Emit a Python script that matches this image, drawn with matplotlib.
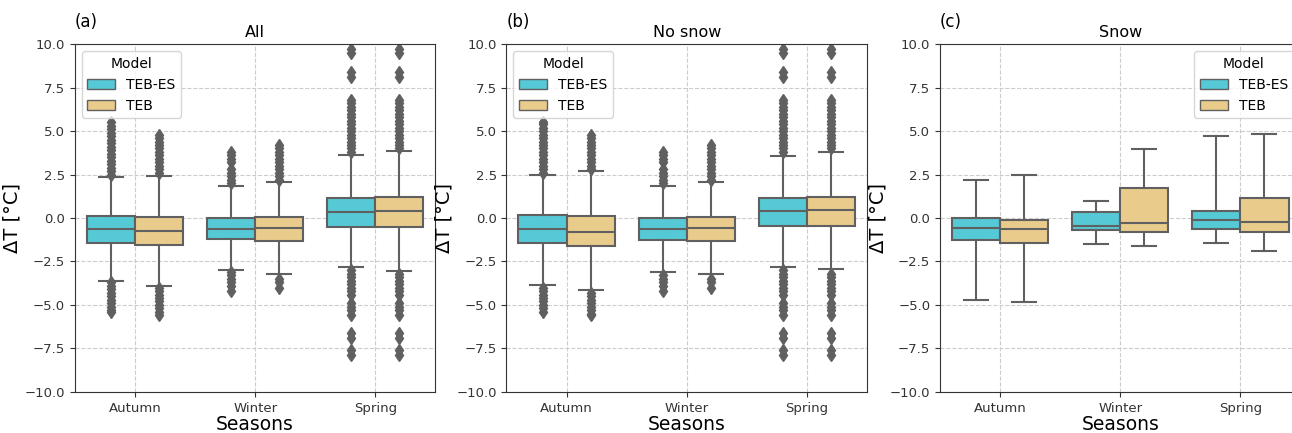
import matplotlib.pyplot as plt
from matplotlib.patches import Patch

# Data: temperature differences (boxplot stats)
seasons = ["Autumn", "Winter", "Spring"]
models = ["TEB-ES", "TEB"]
panel_titles = ["All", "No snow", "Snow"]
panel_tags = ["(a)", "(b)", "(c)"]
colors = ["#55c9d6", "#e9cb8b"]

# each list: [TEB-ES per season, TEB per season]
all_q1 = [[-1.42, -1.20, -0.52], [-1.55, -1.30, -0.50]]
all_med = [[-0.62, -0.62, 0.36], [-0.72, -0.58, 0.42]]
all_q3 = [[0.10, -0.02, 1.15], [0.08, 0.08, 1.23]]
all_lo = [[-3.60, -2.97, -2.82], [-3.92, -3.20, -3.05]]
all_hi = [[2.35, 1.84, 3.64], [2.43, 2.09, 3.83]]

nosnow_q1 = [[-1.46, -1.25, -0.48], [-1.59, -1.30, -0.46]]
nosnow_med = [[-0.65, -0.61, 0.42], [-0.79, -0.58, 0.46]]
nosnow_q3 = [[0.15, -0.02, 1.15], [0.12, 0.08, 1.23]]
nosnow_lo = [[-3.84, -3.13, -2.84], [-4.12, -3.20, -2.91]]
nosnow_hi = [[2.49, 1.84, 3.59], [2.70, 2.09, 3.78]]

snow_q1 = [[-1.28, -0.67, -0.65], [-1.42, -0.82, -0.80]]
snow_med = [[-0.56, -0.44, -0.13], [-0.62, -0.27, -0.21]]
snow_q3 = [[-0.02, 0.35, 0.40], [-0.13, 1.74, 1.15]]
snow_lo = [[-4.74, -1.51, -1.46], [-4.83, -1.63, -1.92]]
snow_hi = [[2.17, 1.00, 4.74], [2.47, 3.95, 4.85]]

# outliers
spring_es_fl = [3.8, 4.0, 4.2, 4.4, 4.6, 4.8, 5.0, 5.2, 5.4, 5.6, 5.8, 6.0, 6.2, 6.4, 6.6, 6.8,
                8.1, 8.4, 9.5, 9.7,
                -3.0, -3.2, -3.4, -3.6, -3.8, -4.0, -4.2, -4.4, -4.9, -5.1, -5.3, -5.6,
                -6.6, -6.9, -7.6, -7.9]
spring_teb_fl = [4.0, 4.2, 4.4, 4.6, 4.8, 5.0, 5.2, 5.4, 5.6, 5.8, 6.0, 6.2, 6.4, 6.6, 6.8,
                 8.1, 8.4, 9.5, 9.7,
                 -3.2, -3.4, -3.6, -3.8, -4.0, -4.2, -4.4, -4.9, -5.1, -5.3, -5.6,
                 -6.6, -6.9, -7.6, -7.9]
all_fliers = [
    [[2.5, 2.7, 2.9, 3.1, 3.3, 3.5, 3.7, 3.9, 4.1, 4.3, 4.5, 4.7, 4.9, 5.1, 5.3, 5.5,
      -3.7, -3.9, -4.1, -4.3, -4.5, -4.7, -4.9, -5.1, -5.3, -5.4],
     [2.0, 2.2, 2.4, 2.6, 2.8, 3.2, 3.4, 3.6, 3.8, -3.1, -3.3, -3.5, -3.7, -3.9, -4.2],
     spring_es_fl],
    [[2.6, 2.8, 3.0, 3.2, 3.4, 3.6, 3.8, 4.0, 4.2, 4.4, 4.6, 4.8,
      -4.0, -4.2, -4.4, -4.6, -4.8, -5.0, -5.2, -5.4, -5.6],
     [2.2, 2.4, 2.6, 2.8, 3.0, 3.2, 3.4, 3.6, 3.8, 4.0, 4.2, -3.5, -3.7, -4.0],
     spring_teb_fl],
]
nosnow_fliers = [
    [[2.6, 2.8, 3.0, 3.2, 3.4, 3.6, 3.8, 4.0, 4.2, 4.4, 4.6, 4.8, 5.0, 5.2, 5.4, 5.5,
      -4.0, -4.2, -4.4, -4.6, -4.8, -5.0, -5.2, -5.4],
     [2.0, 2.2, 2.4, 2.6, 2.8, 3.2, 3.4, 3.6, 3.8, -3.3, -3.5, -3.7, -3.9, -4.2],
     spring_es_fl],
    [[2.8, 3.0, 3.2, 3.4, 3.6, 3.8, 4.0, 4.2, 4.4, 4.6, 4.8,
      -4.3, -4.5, -4.7, -4.9, -5.1, -5.3, -5.5, -5.6],
     [2.2, 2.4, 2.6, 2.8, 3.0, 3.2, 3.4, 3.6, 3.8, 4.0, 4.2, -3.5, -3.7, -4.0],
     spring_teb_fl],
]
snow_fliers = [[[], [], []], [[], [], []]]

panels = [
    (all_q1, all_med, all_q3, all_lo, all_hi, all_fliers),
    (nosnow_q1, nosnow_med, nosnow_q3, nosnow_lo, nosnow_hi, nosnow_fliers),
    (snow_q1, snow_med, snow_q3, snow_lo, snow_hi, snow_fliers),
]

line_col = "#606060"
fig = plt.figure(figsize=(12.92, 4.33), dpi=100)
lefts = [0.058, 0.392, 0.7276]
width = 0.279
ax_list = [fig.add_axes([l, 0.095, width, 0.803]) for l in lefts]

for k, ax in enumerate(ax_list):
    q1, med, q3, lo, hi, fl = panels[k]
    ax.set_axisbelow(True)
    ax.grid(True, linestyle="--", color="#cccccc", linewidth=0.8)
    for m in range(2):
        stats = []
        for s in range(3):
            stats.append(dict(q1=q1[m][s], med=med[m][s], q3=q3[m][s],
                              whislo=lo[m][s], whishi=hi[m][s], fliers=fl[m][s]))
        pos = [s - 0.2 + 0.4 * m for s in range(3)]
        ax.bxp(stats, positions=pos, widths=0.4, patch_artist=True,
               boxprops=dict(facecolor=colors[m], edgecolor=line_col, linewidth=1.5),
               medianprops=dict(color=line_col, linewidth=1.5),
               whiskerprops=dict(color=line_col, linewidth=1.5),
               capprops=dict(color=line_col, linewidth=1.5),
               flierprops=dict(marker="d", markerfacecolor=line_col,
                               markeredgecolor=line_col, markersize=6))
    ax.set_xlim(-0.5, 2.5)
    ax.set_ylim(-10, 10)
    ax.set_yticks([-10, -7.5, -5, -2.5, 0, 2.5, 5, 7.5, 10])
    ax.set_yticklabels([f"{v:.1f}".replace("-", "\u2212") for v in ax.get_yticks()])
    ax.set_xticks(range(3))
    ax.set_xticklabels(seasons)
    ax.tick_params(labelsize=9.5, colors="#333333")
    for sp in ax.spines.values():
        sp.set_color("#333333")
    ax.set_xlabel("Seasons", fontsize=13.5, labelpad=0)
    ax.set_ylabel("\u0394T [\u00b0C]", fontsize=14, labelpad=2)
    ax.set_title(panel_titles[k], fontsize=11.5, pad=5)
    ax.text(0.0, 1.05, panel_tags[k], transform=ax.transAxes, fontsize=12, ha="left")

    handles = [Patch(facecolor=colors[i], edgecolor=line_col, label=models[i]) for i in range(2)]
    if k < 2:
        ax.legend(handles=handles, title="Model", loc="upper left", fontsize=10, title_fontsize=10)
    else:
        ax.legend(handles=handles, title="Model", loc="upper right", fontsize=10, title_fontsize=10)

fig.savefig("out.png", dpi=100)
